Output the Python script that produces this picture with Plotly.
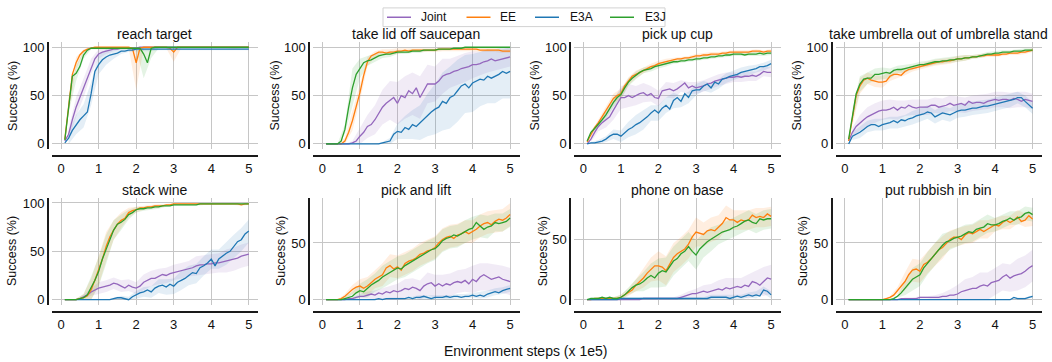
import plotly.graph_objects as go

# ---------------- data ----------------
X = [round(0.1 * k, 1) for k in range(1, 51)]          # environment steps (x 1e5)
XB = X[1::2]                                            # points where spread is read
METHODS = ["Joint", "EE", "E3A", "E3J"]
COLORS = {"Joint": "#9467bd", "EE": "#ff7f0e", "E3A": "#1f77b4", "E3J": "#2ca02c"}
FILLS = {"Joint": "rgba(148,103,189,0.13)", "EE": "rgba(255,127,14,0.13)",
         "E3A": "rgba(31,119,180,0.12)", "E3J": "rgba(44,160,44,0.13)"}
TASKS = ["reach target", "take lid off saucepan", "pick up cup",
         "take umbrella out of umbrella stand", "stack wine", "pick and lift",
         "phone on base", "put rubbish in bin"]
X_TICKS = [0, 1, 2, 3, 4, 5]
Y_TICKS = [0, 50, 100]

# reach target
reach_joint = [3,10,25,38,48, 58,70,80,88,93, 95,96,97,98,98, 99,99,99,99,99] + [100]*30
reach_ee = [5,40,72,84,92, 96,98,99,100,100] + [100]*8 + [99,84,99] + [100]*7 + [99,95] + [100]*20
reach_e3a = [1,6,14,20,25, 29,33,52,75,82, 87,90,92,93,94, 96,96,97,97,98] + [98]*30
reach_e3j = [4,40,70,73,80, 92,97,99,99,99] + [99]*10 + [99,93,84,99] + [100]*26
reach_joint_sd = [6,10,10,8,5, 3,2,1,1,1] + [1]*15
reach_ee_sd = [8,6,2,1,1, 1,1,1,1,28, 1,1,1,1,10, 1,1,1,1,1, 1,1,2,1,1]
reach_e3a_sd = [6,10,12,12,10, 8,5,3,2,2, 2,2,1,1,1, 1,1,1,1,1, 1,1,1,1,1]
reach_e3j_sd = [8,8,4,1,1, 1,1,1,1,1, 25,10,1,1,1, 1,1,1,1,1, 1,1,1,1,1]

# take lid off saucepan
lid_joint = [0,0,0,0,0, 0,0,1,3,8, 12,18,20,25,32, 38,42,45,48,42, 50,48,55,52,58,
             48,55,62,62,62, 65,70,72,73,75, 76,78,79,80,82, 82,83,85,86,88, 86,87,88,89,90]
lid_ee = [0,0,0,0,0, 3,12,24,38,53, 71,85,91,93,95, 95,94,95,95,96, 96,97,96,97,97,
          97,97,97,97,97, 98,98,98,98,98, 98,98,98,98,98, 98,97,97,97,97, 97,97,96,96,96]
lid_e3a = [0]*15 + [1,2,3,10,13, 12,17,15,20,18, 22,26,30,33,36, 38,44,42,48,50,
                    55,60,62,58,63, 65,67,66,70,68, 70,72,75,73,75]
lid_e3j = [0,0,0,0,3, 15,38,58,72,78, 84,86,87,89,91, 92,93,93,94,95, 95,95,95,96,96,
           96,97,97,97,97, 98,98,98,98,99, 99,99,100,100,100] + [100]*10
lid_joint_sd = [0,0,0,2,8, 12,15,18,20,22, 22,22,22,20,18, 18,15,15,15,14, 12,12,10,10,10]
lid_ee_sd = [0,0,3,10,8, 5,3,3,3,3, 2,2,2,2,2, 2,2,2,2,2, 2,2,2,2,2]
lid_e3a_sd = [0,0,0,0,0, 0,0,1,3,8, 12,15,18,22,26, 30,32,32,30,30, 28,28,28,28,28]
lid_e3j_sd = [0,0,5,20,10, 5,4,3,3,2, 2,2,2,1,1, 1,1,1,1,1, 1,1,1,1,1]

# pick up cup
cup_joint = [0,5,12,18,22, 25,28,35,42,48, 48,50,48,50,52, 53,50,52,48,47, 55,56,57,55,57,
             60,63,58,60,58, 59,60,62,63,65, 66,67,68,69,69, 70,69,70,70,71, 70,72,75,74,74]
cup_ee = [2,10,17,22,28, 35,40,47,50,52, 60,65,70,72,74, 76,78,80,81,83, 84,85,86,87,88,
          88,89,89,90,91, 91,92,92,93,93, 93,94,94,95,95, 95,95,95,95,96, 96,96,95,96,96]
cup_e3a = [0,1,1,2,3, 5,8,10,10,8, 12,15,17,20,22, 25,28,32,35,32, 37,40,36,45,48,
           44,52,48,55,56, 56,60,62,58,64, 62,67,68,70,71, 72,74,75,76,77, 78,80,80,81,83]
cup_e3j = [3,12,16,20,25, 30,37,43,48,51, 58,64,68,71,74, 76,77,78,80,81, 82,83,84,85,85,
           86,86,87,87,88, 88,89,89,90,90, 91,91,92,92,93, 93,93,92,93,93, 93,94,93,94,94]
cup_joint_sd = [3,5,8,10,12, 12,10,10,8,8, 8,8,6,6,6, 6,6,6,6,5, 5,5,5,5,5]
cup_ee_sd = [2,3,4,5,5, 4,4,3,3,3, 3,2,2,2,2, 2,2,2,2,2, 2,2,2,2,2]
cup_e3a_sd = [1,2,3,5,6, 8,10,10,8,8, 8,8,6,6,6, 5,5,5,5,5, 5,5,4,4,4]
cup_e3j_sd = [2,3,4,5,5, 4,4,3,3,3, 3,2,2,2,2, 2,2,2,2,2, 2,2,2,2,2]

# take umbrella out of umbrella stand
umb_joint = [3,12,18,22,25, 28,30,32,34,35, 35,36,38,35,38, 37,40,38,37,38, 38,38,40,40,38,
             39,40,42,40,41, 42,40,44,42,43, 43,42,44,45,46, 45,46,46,45,47, 46,44,46,45,44]
umb_ee = [3,25,50,60,66, 68,66,65,64,64, 65,70,72,72,71, 75,77,78,79,80, 81,82,83,84,85,
          85,86,86,87,88, 88,89,89,90,90, 91,91,92,92,92, 92,93,93,94,94, 94,95,95,96,97]
umb_e3a = [0,8,10,12,15, 18,20,20,18,20, 21,22,24,22,25, 24,26,27,29,30, 31,33,32,28,30,
           32,31,30,32,34, 35,35,36,37,37, 38,39,39,40,41, 42,43,44,45,46, 48,48,44,40,37]
umb_e3j = [5,30,52,62,67, 68,68,72,72,73, 74,73,76,77,77, 78,79,80,81,82, 82,83,84,85,85,
           86,86,87,87,88, 88,89,89,90,90, 91,92,93,93,94, 94,95,95,95,96, 96,96,97,97,97]
umb_joint_sd = [5,8,10,10,10, 10,10,8,8,8, 8,8,8,8,8, 8,8,8,8,8, 8,8,8,8,8]
umb_ee_sd = [6,8,6,6,6, 5,4,4,3,3, 3,3,3,3,3, 3,2,2,2,2, 2,2,2,2,2]
umb_e3a_sd = [4,6,6,6,6, 6,6,6,7,7, 7,7,7,7,7, 7,7,7,7,7, 7,7,6,6,6]
umb_e3j_sd = [6,8,6,6,6, 5,4,4,3,3, 3,3,3,3,3, 3,2,2,2,2, 2,2,2,2,2]

# stack wine
wine_joint = [0,0,0,0,1, 3,5,8,10,12, 13,14,15,17,16, 14,12,15,13,12, 14,18,20,22,22,
              24,26,25,27,28, 29,30,31,32,33, 35,36,36,37,37, 38,38,39,40,41, 42,43,45,46,47]
wine_ee = [0,0,0,0,1, 2,4,10,20,30, 42,55,65,72,78, 82,84,90,92,93, 95,95,96,96,97,
           97,97,98,98,99] + [99]*17 + [98,99,99]
wine_e3a = [0]*13 + [1,2, 2,1,0,3,5, 7,8,10,8,12, 14,15,13,16,14, 18,20,22,25,28,
                     27,33,35,38,42, 35,42,45,48,50, 55,60,62,68,71]
wine_e3j = [0,0,0,0,1, 2,5,12,20,29, 42,52,62,72,78, 80,83,88,90,93, 94,94,95,95,96,
            96,97,97,97,98, 98,98,98,98,98, 98] + [99]*14
wine_joint_sd = [0,0,2,4,6, 6,6,6,6,6, 8,8,8,8,8, 8,8,10,10,10, 10,12,12,12,12]
wine_ee_sd = [0,1,4,12,15, 15,10,8,5,3, 2,2,2,1,1, 1,1,1,1,1, 1,1,1,1,1]
wine_e3a_sd = [0,0,0,0,0, 0,1,2,3,4, 5,6,7,8,8, 10,10,10,10,10, 10,12,12,12,12]
wine_e3j_sd = [0,1,4,12,15, 15,10,8,5,3, 2,2,2,1,1, 1,1,1,1,1, 1,1,1,1,1]

# pick and lift
lift_joint = [0,0,0,0,0, 0,1,1,2,3, 3,4,5,4,6, 5,7,6,8,7, 8,10,9,11,10,
              8,12,14,15,12, 14,12,14,13,15, 16,15,17,14,18, 16,20,22,20,18, 19,20,18,17,16]
lift_ee = [0,0,0,0,1, 3,6,9,11,12, 10,12,15,18,20, 22,28,30,27,29, 26,32,34,35,37,
           40,41,43,44,46, 50,53,55,56,54, 57,58,60,58,60, 62,65,67,68,66, 69,71,70,72,75]
lift_e3a = [0]*10 + [0,0,0,0,1, 0,1,1,1,1, 1,1,2,1,2, 2,3,2,1,2, 2,2,3,2,3,
                     3,2,3,3,4, 3,4,3,5,6, 7,6,8,9,10]
lift_e3j = [0,0,0,0,0, 1,2,3,6,8, 7,10,13,15,17, 20,22,24,26,28, 27,30,32,34,36,
            38,40,42,44,45, 48,52,54,55,57, 56,58,60,62,63, 68,65,62,64,65, 68,67,68,69,72]
lift_joint_sd = [0,0,0,1,2, 3,4,5,6,7, 8,8,9,10,10, 10,10,10,10,12, 12,12,12,12,12]
lift_ee_sd = [0,0,2,4,6, 8,8,10,10,10, 10,10,10,10,10, 10,10,10,10,10, 10,10,10,10,10]
lift_e3a_sd = [0,0,0,0,0, 0,1,1,1,1, 1,2,2,2,2, 2,2,2,2,2, 3,3,3,3,3]
lift_e3j_sd = [0,0,2,4,6, 8,8,10,10,10, 10,10,10,10,10, 10,10,10,10,10, 10,10,8,8,8]

# phone on base
phone_joint = [0]*15 + [1]*10 + [2,3,4,5,5, 6,7,6,7,8, 9,8,10,9,10, 11,10,12,11,15, 14,12,15,18,17]
phone_ee = [0,0,1,1,1, 1,1,1,1,2, 4,6,8,12,15, 18,22,25,28,28, 27,24,30,35,38,
            40,42,46,52,56, 55,54,57,58,57, 60,63,68,66,66, 64,66,65,66,70, 68,69,68,71,69]
phone_e3a = [0,0,0,0,0, 0,0,0,0,1] + [1]*23 + [2,2, 2,2,2,1,2, 3,2,3,4,3, 4,3,8,7,4]
phone_e3j = [0,1,1,1,2, 1,2,1,1,2, 4,7,10,12,13, 15,18,20,18,22, 24,23,28,32,34,
             38,40,44,40,37, 42,45,48,50,52, 54,56,57,58,60, 61,63,65,66,64, 63,67,66,67,67]
phone_joint_sd = [0,0,0,0,0, 0,1,1,1,1, 1,1,2,3,4, 5,6,7,8,8, 8,10,10,12,12]
phone_ee_sd = [0,1,1,1,2, 3,5,8,10,12, 12,12,12,12,12, 10,10,10,10,8, 8,8,8,8,8]
phone_e3a_sd = [0,0,0,0,1, 1,1,1,1,1, 1,1,1,1,1, 1,2,2,2,2, 2,2,3,3,3]
phone_e3j_sd = [0,1,1,1,2, 3,5,8,10,12, 12,12,12,12,12, 10,10,8,8,8, 8,8,8,8,8]

# put rubbish in bin
bin_joint = [0]*10 + [0,0,0,0,1, 1,1,1,1,2, 2,2,2,2,2, 3,3,4,4,5,
                      7,8,9,10,10, 12,13,12,15,16, 17,20,22,19,21, 22,23,25,28,30]
bin_ee = [0]*10 + [1,2,4,8,12, 16,22,26,27,25, 31,33,36,40,44, 46,50,53,55,55,
                   53,57,59,58,60, 62,60,62,64,66, 65,68,70,68,70, 73,69,70,74,71]
bin_e3a = [0]*44 + [2,1,1,1,2,3]
bin_e3j = [0]*12 + [1,3,6, 10,15,18,20,22, 28,32,37,40,44, 48,51,52,54,55,
                    56,58,60,59,62, 63,64,67,66,66, 67,69,70,72,70, 72,73,76,77,75]
bin_joint_sd = [0,0,0,0,0, 0,0,1,1,1, 1,2,3,5,8, 10,10,12,12,12, 12,12,14,14,14]
bin_ee_sd = [0,0,0,0,0, 1,3,8,10,10, 10,10,10,8,8, 8,8,8,8,6, 6,6,6,6,6]
bin_e3a_sd = [0]*22 + [1,1,1]
bin_e3j_sd = [0,0,0,0,0, 0,1,6,10,10, 10,10,10,8,8, 8,8,8,8,6, 6,6,6,6,6]

MEANS = [
    [reach_joint, reach_ee, reach_e3a, reach_e3j],
    [lid_joint, lid_ee, lid_e3a, lid_e3j],
    [cup_joint, cup_ee, cup_e3a, cup_e3j],
    [umb_joint, umb_ee, umb_e3a, umb_e3j],
    [wine_joint, wine_ee, wine_e3a, wine_e3j],
    [lift_joint, lift_ee, lift_e3a, lift_e3j],
    [phone_joint, phone_ee, phone_e3a, phone_e3j],
    [bin_joint, bin_ee, bin_e3a, bin_e3j],
]
SPREADS = [
    [reach_joint_sd, reach_ee_sd, reach_e3a_sd, reach_e3j_sd],
    [lid_joint_sd, lid_ee_sd, lid_e3a_sd, lid_e3j_sd],
    [cup_joint_sd, cup_ee_sd, cup_e3a_sd, cup_e3j_sd],
    [umb_joint_sd, umb_ee_sd, umb_e3a_sd, umb_e3j_sd],
    [wine_joint_sd, wine_ee_sd, wine_e3a_sd, wine_e3j_sd],
    [lift_joint_sd, lift_ee_sd, lift_e3a_sd, lift_e3j_sd],
    [phone_joint_sd, phone_ee_sd, phone_e3a_sd, phone_e3j_sd],
    [bin_joint_sd, bin_ee_sd, bin_e3a_sd, bin_e3j_sd],
]
Y_RANGES = [[-5, 105]] * 5 + [[-4.25, 89.5], [-4.0, 84.1], [-4.25, 89.5]]

# ---------------- layout geometry (pixels) ----------------
W, H = 1052, 362
COL_LEFT = [51.7, 313.0, 574.0, 835.5]
PLOT_W = 206.5
ROW_TOP = [40.1, 198.4]
ROW_BOT = [148.2, 306.6]
SPINE_GAP = 3.6
XSPINE_Y = [156.0, 314.3]
YLABEL_X = [[12.3, 275.0, 535.0, 797.0], [12.7, 281.7, 543.0, 803.0]]
# legend box (px) and per-entry handle start / text start
LEG_BOX = (383, 5, 665, 24)
LEG_HANDLE_X = [387, 466.5, 535, 610]
LEG_HANDLE_LEN = 24
LEG_TEXT_X = [419, 498, 568, 643]
FONT = "Liberation Sans, Arial, sans-serif"
TXT = "#111111"
GRID = "#c6c6c6"
SPINE = "#1a1a1a"

fig = go.Figure()

# bands first
for t in range(8):
    ax = "" if t == 0 else str(t + 1)
    for m, name in enumerate(METHODS):
        mean_b = MEANS[t][m][1::2]
        sd = SPREADS[t][m]
        up = [min(100, a + s) for a, s in zip(mean_b, sd)]
        lo = [max(0, a - s) for a, s in zip(mean_b, sd)]
        fig.add_trace(go.Scatter(
            x=XB + XB[::-1], y=up + lo[::-1], fill="toself", fillcolor=FILLS[name],
            line=dict(width=0), mode="lines", hoverinfo="skip", showlegend=False,
            xaxis="x" + ax, yaxis="y" + ax))

# lines
for t in range(8):
    ax = "" if t == 0 else str(t + 1)
    for m, name in enumerate(METHODS):
        fig.add_trace(go.Scatter(
            x=X, y=MEANS[t][m], mode="lines", name=name, legendgroup=name,
            showlegend=False, line=dict(color=COLORS[name], width=1.3),
            xaxis="x" + ax, yaxis="y" + ax))

layout = dict(
    width=W, height=H, margin=dict(l=0, r=0, t=0, b=0),
    paper_bgcolor="white", plot_bgcolor="white",
    font=dict(family=FONT, color=TXT, size=13),
    showlegend=False,
)
annotations = []
shapes = []
for t in range(8):
    r, c = divmod(t, 4)
    ax = "" if t == 0 else str(t + 1)
    L = COL_LEFT[c]
    layout["xaxis" + ax] = dict(
        domain=[L / W, (L + PLOT_W) / W], range=[-0.25, 5.25], anchor="free",
        position=1 - XSPINE_Y[r] / H, showline=True, linecolor=SPINE, linewidth=2,
        showgrid=True, gridcolor=GRID, gridwidth=1, zeroline=False,
        tickmode="array", tickvals=X_TICKS, ticktext=[str(v) for v in X_TICKS],
        ticks="", tickfont=dict(size=13, family=FONT, color=TXT), fixedrange=True)
    layout["yaxis" + ax] = dict(
        domain=[1 - ROW_BOT[r] / H, 1 - ROW_TOP[r] / H], range=Y_RANGES[t], anchor="free",
        position=(L - SPINE_GAP) / W, showline=True, linecolor=SPINE, linewidth=2,
        showgrid=True, gridcolor=GRID, gridwidth=1, zeroline=False,
        tickmode="array", tickvals=Y_TICKS, ticktext=[str(v) for v in Y_TICKS],
        ticks="", tickfont=dict(size=13, family=FONT, color=TXT), fixedrange=True)
    annotations.append(dict(
        text=TASKS[t], x=(L + PLOT_W / 2) / W, y=1 - (ROW_TOP[r] - 8.5) / H,
        xref="paper", yref="paper", xanchor="center", yanchor="middle",
        showarrow=False, font=dict(size=14, family=FONT, color=TXT)))
    annotations.append(dict(
        text="Success (%)", x=YLABEL_X[r][c] / W, y=1 - (ROW_TOP[r] + ROW_BOT[r]) / 2 / H,
        xref="paper", yref="paper", xanchor="center", yanchor="middle", textangle=-90,
        showarrow=False, font=dict(size=12.5, family=FONT, color=TXT)))

annotations.append(dict(
    text="Environment steps (x 1e5)", x=525 / W, y=1 - 354 / H, xref="paper", yref="paper",
    xanchor="center", yanchor="middle", showarrow=False,
    font=dict(size=14, family=FONT, color=TXT)))

# legend (box, handles, labels)
bx0, by0, bx1, by1 = LEG_BOX
shapes.append(dict(type="rect", xref="paper", yref="paper",
                   x0=bx0 / W, x1=bx1 / W, y0=1 - by1 / H, y1=1 - by0 / H,
                   line=dict(color="#d2d2d2", width=1), fillcolor="white", layer="above"))
ly = (by0 + by1) / 2
for m, name in enumerate(METHODS):
    shapes.append(dict(type="line", xref="paper", yref="paper",
                       x0=LEG_HANDLE_X[m] / W, x1=(LEG_HANDLE_X[m] + LEG_HANDLE_LEN) / W,
                       y0=1 - ly / H, y1=1 - ly / H,
                       line=dict(color=COLORS[name], width=1.5), layer="above"))
    annotations.append(dict(text=name, x=LEG_TEXT_X[m] / W, y=1 - ly / H,
                            xref="paper", yref="paper", xanchor="left", yanchor="middle",
                            showarrow=False, font=dict(size=12, family=FONT, color=TXT)))

layout["annotations"] = annotations
layout["shapes"] = shapes
fig.update_layout(**layout)
fig.write_html("out.html")
